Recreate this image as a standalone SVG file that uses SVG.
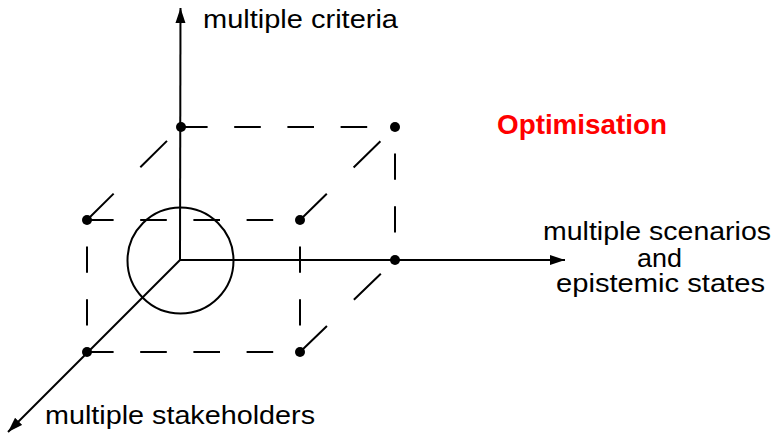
<svg xmlns="http://www.w3.org/2000/svg" width="779" height="433" viewBox="0 0 779 433">
<style>
.axis{stroke:#000;stroke-width:2;fill:none}
.edge{stroke:#000;stroke-width:2;fill:none;stroke-dasharray:26.6 26.6}
.vedge{stroke:#000;stroke-width:2;fill:none;stroke-dasharray:26.4 26.4;stroke-dashoffset:26.4}
.dedge{stroke:#000;stroke-width:2;fill:none;stroke-dasharray:37.5 37.5}
.dot{fill:#000}
.lbl{font-family:"Liberation Sans",Arial,Helvetica,sans-serif;font-size:26px;fill:#000}
.opt{font-family:"Liberation Sans",Arial,Helvetica,sans-serif;font-size:27px;font-weight:bold;fill:#ff0000}
</style>
<defs>
<marker id="arrow" markerUnits="userSpaceOnUse" markerWidth="16" markerHeight="12" refX="15" refY="5" orient="auto">
<path d="M0,0 L15,5 L0,10 Z" fill="#000"/>
</marker>
</defs>
<g id="connectors">
<line class="axis" x1="180" y1="260" x2="180.5" y2="8" marker-end="url(#arrow)"/>
<line class="axis" x1="180" y1="260" x2="565" y2="260" marker-end="url(#arrow)"/>
<line class="axis" x1="180" y1="260" x2="8" y2="432" marker-end="url(#arrow)"/>
<line class="edge" x1="181" y1="127" x2="395" y2="127"/>
<line class="edge" x1="87" y1="220" x2="300" y2="220"/>
<line class="edge" x1="87" y1="352" x2="300" y2="352"/>
<line class="vedge" x1="87" y1="220" x2="87" y2="352"/>
<line class="vedge" x1="300" y1="220" x2="300" y2="352"/>
<line class="vedge" x1="395" y1="127" x2="395" y2="260"/>
<line class="dedge" x1="87" y1="220" x2="181" y2="127"/>
<line class="dedge" x1="300" y1="220" x2="395" y2="127"/>
<line class="dedge" x1="300" y1="352" x2="395" y2="260"/>
</g>
<g id="origin-circle"><circle cx="180.5" cy="260.5" r="53" class="axis"/></g>
<g id="vertices">
<circle class="dot" cx="181" cy="127" r="5"/>
<circle class="dot" cx="395" cy="127" r="5"/>
<circle class="dot" cx="395" cy="260" r="5"/>
<circle class="dot" cx="87" cy="220" r="5"/>
<circle class="dot" cx="300" cy="220" r="5"/>
<circle class="dot" cx="87" cy="352" r="5"/>
<circle class="dot" cx="300" cy="352" r="5"/>
</g>
<g id="label-criteria"><text class="lbl" x="203" y="28" textLength="195" lengthAdjust="spacingAndGlyphs">multiple criteria</text></g>
<g id="label-stakeholders"><text class="lbl" x="45" y="424" textLength="270" lengthAdjust="spacingAndGlyphs">multiple stakeholders</text></g>
<g id="label-scenarios">
<text class="lbl" x="543" y="240" textLength="228" lengthAdjust="spacingAndGlyphs">multiple scenarios</text>
<text class="lbl" x="637" y="267" textLength="45" lengthAdjust="spacingAndGlyphs">and</text>
<text class="lbl" x="556" y="292" textLength="209" lengthAdjust="spacingAndGlyphs">epistemic states</text>
</g>
<g id="label-optimisation"><text class="opt" x="497" y="134" textLength="170" lengthAdjust="spacingAndGlyphs">Optimisation</text></g>
</svg>
